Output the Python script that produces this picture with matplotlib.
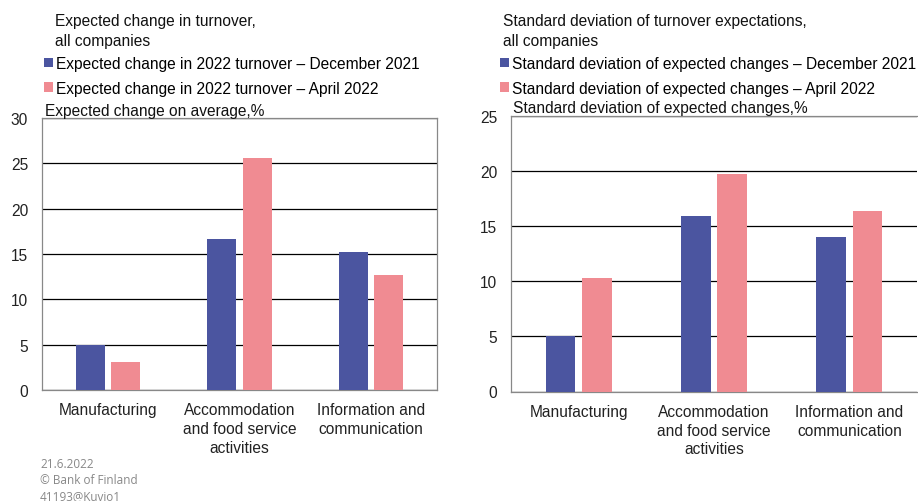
import matplotlib
matplotlib.use("Agg")
import matplotlib.pyplot as plt
from matplotlib.patches import Patch
import numpy as np

plt.rcParams['font.family'] = ['Liberation Sans', 'DejaVu Sans']

categories = ["Manufacturing", "Accommodation\nand food service\nactivities", "Information and\ncommunication"]
change_dec2021 = [5.0, 16.6, 15.2]
change_apr2022 = [3.1, 25.6, 12.7]
sd_dec2021 = [5.05, 15.95, 14.0]
sd_apr2022 = [10.3, 19.7, 16.4]

left_title = "Expected change in turnover,\nall companies"
left_series = ["Expected change in 2022 turnover \u2013 December 2021",
               "Expected change in 2022 turnover \u2013 April 2022"]
left_ylabel = "Expected change on average,%"
right_title = "Standard deviation of turnover expectations,\nall companies"
right_series = ["Standard deviation of expected changes \u2013 December 2021",
                "Standard deviation of expected changes \u2013 April 2022"]
right_ylabel = "Standard deviation of expected changes,%"
footer = "21.6.2022\n\u00a9 Bank of Finland\n41193@Kuvio1"

BLUE = "#4B55A0"
PINK = "#F08B92"
W, H = 918, 502

fig = plt.figure(figsize=(W / 100, H / 100), dpi=100)

def fx(px):
    return px / W

def fy(py):
    return 1 - py / H

ax1 = fig.add_axes([fx(42), fy(391), fx(437 - 42), fy(119) - fy(391)])
ax2 = fig.add_axes([fx(511), fy(392.5), fx(917 - 511), fy(117) - fy(392.5)])

fs = 11.2

def draw(ax, a, b, ymax, ystep):
    x = np.arange(len(categories))
    bw = 0.22
    off = 0.135
    ax.bar(x - off, a, bw, color=BLUE, zorder=3)
    ax.bar(x + off, b, bw, color=PINK, zorder=3)
    ax.set_xlim(-0.5, len(categories) - 0.5)
    ax.set_ylim(0, ymax)
    ax.set_yticks(np.arange(0, ymax + 0.1, ystep))
    ax.yaxis.grid(True, color="black", linewidth=0.9, zorder=0)
    ax.set_axisbelow(True)
    ax.set_xticks(x)
    ax.set_xticklabels(categories, fontsize=fs, linespacing=1.3)
    ax.tick_params(axis='both', length=0, labelsize=fs, colors="#222222")
    ax.tick_params(axis='x', pad=9)
    ax.tick_params(axis='y', pad=10)
    for s in ax.spines.values():
        s.set_color("#888888")
        s.set_linewidth(0.9)

draw(ax1, change_dec2021, change_apr2022, 30, 5)
draw(ax2, sd_dec2021, sd_apr2022, 25, 5)
ax2.spines['right'].set_visible(False)

fig.text(fx(55), fy(14), left_title, fontsize=fs, va='top', linespacing=1.45, color="#111111")
fig.text(fx(503), fy(14), right_title, fontsize=fs, va='top', linespacing=1.45, color="#111111")
fig.text(fx(45), fy(116), left_ylabel, fontsize=fs, va='baseline', color="#111111")
fig.text(fx(513), fy(113), right_ylabel, fontsize=fs, va='baseline', color="#111111")

def legend(labels, x0, y0):
    handles = [Patch(facecolor=BLUE, edgecolor='none'), Patch(facecolor=PINK, edgecolor='none')]
    fig.legend(handles, labels, loc='upper left', bbox_to_anchor=(fx(x0), fy(y0)),
               frameon=False, fontsize=fs, handlelength=0.55, handleheight=0.55,
               handletextpad=0.25, labelspacing=0.62, borderaxespad=0, borderpad=0)

legend(left_series, 44, 57)
legend(right_series, 500, 57)

fig.text(fx(40), fy(458), footer, fontsize=8.5, va='top', color="#888888",
         family=['Open Sans', 'DejaVu Sans'], linespacing=1.3)

fig.savefig("out.png", dpi=100)
